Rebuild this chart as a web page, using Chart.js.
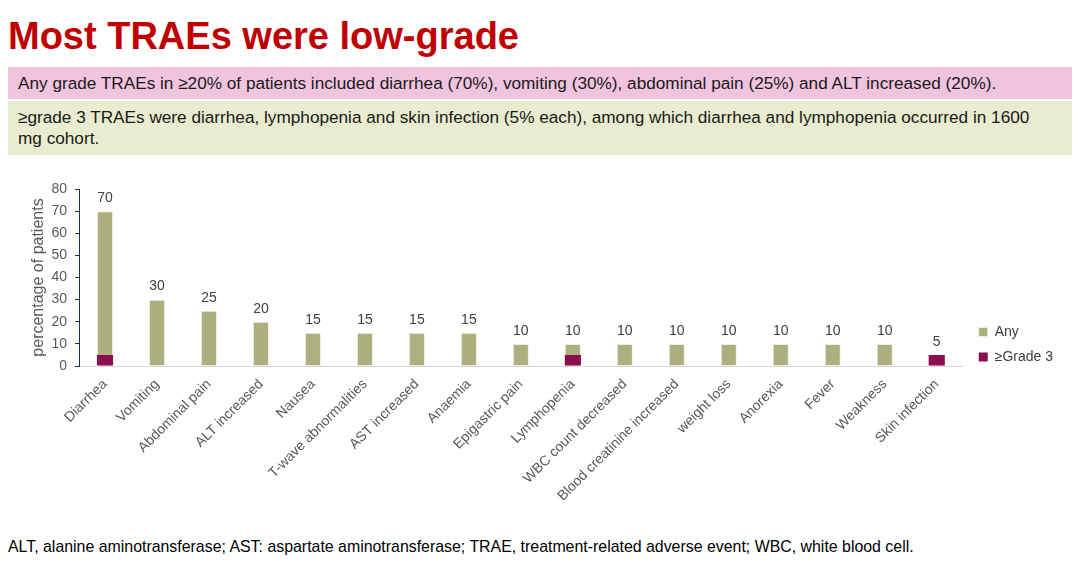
<!DOCTYPE html>
<html>
<head>
<meta charset="utf-8">
<script src="https://cdn.jsdelivr.net/npm/chart.js@4.4.0/dist/chart.umd.min.js"></script>
<style>
  body { margin: 0; width: 1080px; height: 564px; background: #fff; font-family: "Liberation Sans", Arial, sans-serif; position: relative; overflow: hidden; }
  #title { position: absolute; left: 8px; top: 15px; font-size: 38px; font-weight: bold; color: #c00000; white-space: nowrap; }
  .box { position: absolute; left: 8px; width: 1064px; padding: 0 10px; box-sizing: border-box; font-size: 17.2px; color: #1a1a1a; line-height: 21px; }
  #box1 { top: 67px; height: 32px; background: #f0c4de; line-height: 32px; }
  #box2 { top: 101px; height: 54px; background: #e9ecce; padding-top: 6px; }
  #chartWrap { position: absolute; left: 0; top: 170px; width: 1080px; height: 330px; }
  #foot { position: absolute; left: 8px; top: 538px; font-size: 15.9px; color: #000; white-space: nowrap; }
</style>
</head>
<body>
<div id="title">Most TRAEs were low-grade</div>
<div class="box" id="box1">Any grade TRAEs in ≥20% of patients included diarrhea (70%), vomiting (30%), abdominal pain (25%) and ALT increased (20%).</div>
<div class="box" id="box2">≥grade 3 TRAEs were diarrhea, lymphopenia and skin infection (5% each), among which diarrhea and lymphopenia occurred in 1600<br>mg cohort.</div>
<div id="chartWrap"><canvas id="traeChart"></canvas></div>
<div id="foot">ALT, alanine aminotransferase; AST: aspartate aminotransferase; TRAE, treatment-related adverse event; WBC, white blood cell.</div>

<script>
const categories = ['Diarrhea', 'Vomiting', 'Abdominal pain', 'ALT increased', 'Nausea', 'T-wave abnormalities',
    'AST increased', 'Anaemia', 'Epigastric pain', 'Lymphopenia', 'WBC count decreased',
    'Blood creatinine increased', 'weight loss', 'Anorexia', 'Fever', 'Weakness', 'Skin infection'];
const anyGrade = [70, 30, 25, 20, 15, 15, 15, 15, 10, 10, 10, 10, 10, 10, 10, 10, 5];
const grade3 = [5, 0, 0, 0, 0, 0, 0, 0, 0, 5, 0, 0, 0, 0, 0, 0, 5];
const yTicks = [0, 10, 20, 30, 40, 50, 60, 70, 80];

// value labels above the "Any" bars
const valueLabels = {
    id: 'valueLabels',
    afterDatasetsDraw(chart) {
        const ctx = chart.ctx;
        const meta = chart.getDatasetMeta(0);
        ctx.save();
        ctx.font = '14px "Liberation Sans", Arial, sans-serif';
        ctx.fillStyle = '#404040';
        ctx.textAlign = 'center';
        ctx.textBaseline = 'bottom';
        meta.data.forEach((bar, i) => {
            ctx.fillText(anyGrade[i], bar.x, bar.y - 6);
        });
        ctx.restore();
    }
};

// push the legend a bit further away from the plot
const legendShift = {
    id: 'legendShift',
    afterLayout(chart) {
        chart.legend.left += 5;
        chart.legend.right += 5;
    }
};

const ctx = document.getElementById('traeChart').getContext('2d');
new Chart(ctx, {
    type: 'bar',
    data: {
        labels: categories,
        datasets: [{
            label: 'Any',
            data: anyGrade,
            backgroundColor: '#adb07e',
            borderColor: '#eef0e0',
            borderWidth: 1,
            grouped: false,
            order: 1
        }, {
            label: '≥Grade 3',
            data: grade3,
            backgroundColor: '#8c0c50',
            grouped: false,
            order: 0
        }]
    },
    options: {
        responsive: true,
        maintainAspectRatio: false,
        animation: false,
        layout: { padding: { top: 19, left: 29, right: 22, bottom: 0 } },
        datasets: { bar: { barPercentage: 0.31, categoryPercentage: 1 } },
        plugins: {
            tooltip: { enabled: false },
            legend: {
                position: 'right',
                align: 'center',
                labels: {
                    boxWidth: 9,
                    boxHeight: 9,
                    padding: 11,
                    color: '#404040',
                    font: { size: 14, family: '"Liberation Sans", Arial, sans-serif' },
                    sort: (a, b) => a.datasetIndex - b.datasetIndex
                }
            }
        },
        scales: {
            x: {
                grid: { display: false },
                border: { color: '#d9d9d9' },
                ticks: {
                    maxRotation: 45,
                    minRotation: 45,
                    color: '#595959',
                    font: { size: 14, family: '"Liberation Sans", Arial, sans-serif' },
                    padding: 2
                },
                afterFit(scale) { scale.height = 134; }
            },
            y: {
                min: 0,
                max: 80,
                afterBuildTicks(scale) { scale.ticks = yTicks.map(v => ({ value: v })); },
                grid: { drawOnChartArea: false, drawTicks: true, tickLength: 4, color: '#1f2d5a' },
                border: { color: '#1f2d5a' },
                ticks: {
                    color: '#595959',
                    font: { size: 14, family: '"Liberation Sans", Arial, sans-serif' },
                    padding: 8
                },
                title: {
                    display: true,
                    text: 'percentage of patients',
                    color: '#595959',
                    font: { size: 16, family: '"Liberation Sans", Arial, sans-serif' },
                    padding: 0
                },
                afterFit(scale) { scale.width = 50; }
            }
        }
    },
    plugins: [valueLabels, legendShift]
});
</script>
</body>
</html>
